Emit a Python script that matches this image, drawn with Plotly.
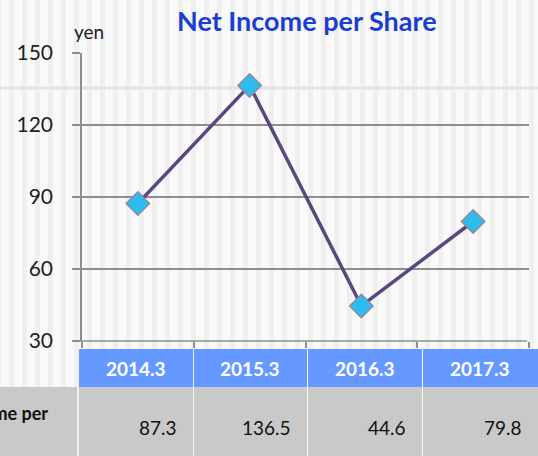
import plotly.graph_objects as go

categories = ["2014.3", "2015.3", "2016.3", "2017.3"]
values = [87.3, 136.5, 44.6, 79.8]
row_label = "Net Income per"
y_ticks = [30, 60, 90, 120, 150]
title_text = "Net Income per Share"
unit_text = "yen"

W, H = 538, 456
L, R, T, B = 82, 529, 53, 341  # plot area in pixels

def px(x):
    return (x - L) / (R - L)

def py(y):
    return (B - y) / (B - T)

FONT = "Lato"
GRID = "#8e8e8e"

fig = go.Figure()
fig.add_trace(go.Scatter(
    x=categories, y=values, mode="lines+markers",
    line=dict(color="#5a477f", width=3.5),
    marker=dict(symbol="diamond", size=18, color="#2cbcf0",
                line=dict(color="#8c8c9c", width=1.5)),
    hoverinfo="skip", showlegend=False,
))

shapes = []
# background stripes
x0 = -4
while x0 < W:
    shapes.append(dict(type="rect", xref="paper", yref="paper", layer="below",
                       x0=px(x0), x1=px(x0 + 5), y0=py(H), y1=py(0),
                       fillcolor="#efefef", line=dict(width=0)))
    x0 += 13
# faint horizontal band
shapes.append(dict(type="line", xref="paper", yref="paper", layer="below",
                   x0=px(0), x1=px(W), y0=py(88), y1=py(88),
                   line=dict(color="#e3e3e3", width=3)))
# bottom axis line (y = 30 gridline)
shapes.append(dict(type="line", xref="paper", yref="paper",
                   x0=px(74), x1=px(527), y0=0, y1=0,
                   line=dict(color=GRID, width=1.5)))

# table cells
col_edges = [78, 193, 307, 422, 538]
hdr_top, hdr_bot, body_bot = 349, 387, 456
shapes.append(dict(type="rect", xref="paper", yref="paper",
                   x0=px(0), x1=px(col_edges[0] - 1), y0=py(body_bot), y1=py(hdr_bot),
                   fillcolor="#c9c9c9", line=dict(width=0)))
for i in range(len(categories)):
    shapes.append(dict(type="rect", xref="paper", yref="paper",
                       x0=px(col_edges[i] + 1), x1=px(col_edges[i + 1]),
                       y0=py(hdr_bot), y1=py(hdr_top),
                       fillcolor="#6699ff", line=dict(width=0)))
    shapes.append(dict(type="rect", xref="paper", yref="paper",
                       x0=px(col_edges[i] + 1), x1=px(col_edges[i + 1]),
                       y0=py(body_bot), y1=py(hdr_bot),
                       fillcolor="#c9c9c9", line=dict(width=0)))

annotations = []
for i, c in enumerate(categories):
    annotations.append(dict(xref="paper", yref="paper",
                            x=px((col_edges[i] + col_edges[i + 1]) / 2), y=py(368),
                            text=f"<b>{c}</b>", showarrow=False,
                            font=dict(family=FONT, size=19, color="white"),
                            xanchor="center", yanchor="middle"))
    annotations.append(dict(xref="paper", yref="paper",
                            x=px(col_edges[i + 1] - 14), y=py(427),
                            text=f"{values[i]}", showarrow=False,
                            font=dict(family=FONT, size=19, color="#111"),
                            xanchor="right", yanchor="middle"))
annotations.append(dict(xref="paper", yref="paper", x=px(50), y=py(413),
                        text=f"<b>{row_label}</b>", showarrow=False,
                        font=dict(family=FONT, size=18, color="#111"),
                        xanchor="right", yanchor="middle"))
annotations.append(dict(xref="paper", yref="paper", x=px(307), y=py(21),
                        text=f"<b>{title_text}</b>", showarrow=False,
                        font=dict(family=FONT, size=27, color="#1a3fd0"),
                        xanchor="center", yanchor="middle"))
annotations.append(dict(xref="paper", yref="paper", x=px(72), y=py(31),
                        text=unit_text, showarrow=False,
                        font=dict(family=FONT, size=19, color="#222"),
                        xanchor="left", yanchor="middle"))

fig.update_layout(
    width=W, height=H,
    margin=dict(l=L, r=W - R, t=T, b=H - B, pad=0),
    paper_bgcolor="#f9f9f9", plot_bgcolor="rgba(0,0,0,0)",
    shapes=shapes, annotations=annotations,
    xaxis=dict(type="category", range=[-0.5, 3.5], showgrid=False, zeroline=False,
               showticklabels=False, showline=False,
               tickmode="array", tickvals=[-0.5, 0.5, 1.5, 2.5, 3.5],
               ticks="outside", ticklen=6, tickcolor=GRID, tickwidth=1.5),
    yaxis=dict(range=[30, 150], tickvals=y_ticks, showgrid=True,
               gridcolor=GRID, gridwidth=1.5, zeroline=False,
               showline=True, linecolor=GRID, linewidth=1.5,
               ticks="outside", ticklen=8, tickcolor=GRID, tickwidth=1.5,
               ticklabelstandoff=15,
               tickfont=dict(family=FONT, size=21, color="#222")),
)

fig.write_html("out.html", config={"displayModeBar": False},
               post_script="document.body.style.margin='0';")
